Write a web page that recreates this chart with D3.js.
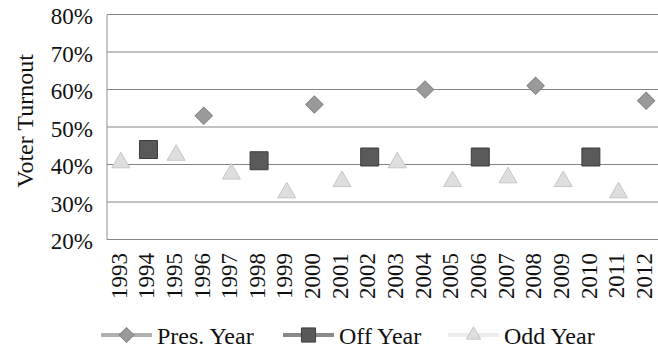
<!DOCTYPE html>
<html>
<head>
<meta charset="utf-8">
<script src="https://cdn.jsdelivr.net/npm/d3@7"></script>
<style>
  body { margin: 0; background: #fff; }
  svg text { font-family: "Liberation Serif", "Times New Roman", "DejaVu Serif", serif; fill: #111; }
</style>
</head>
<body>
<div id="chart"></div>
<script>
// years on the x axis
const years = ["1993","1994","1995","1996","1997","1998","1999","2000","2001","2002",
  "2003","2004","2005","2006","2007","2008","2009","2010","2011","2012"];

// turnout (fraction)
const presYears = ["1996","2000","2004","2008","2012"];
const presValues = [0.53, 0.56, 0.60, 0.61, 0.57];

const offYears = ["1994","1998","2002","2006","2010"];
const offValues = [0.44, 0.41, 0.42, 0.42, 0.42];

const oddYears = ["1993","1995","1997","1999","2001","2003","2005","2007","2009","2011"];
const oddValues = [0.405, 0.425, 0.375, 0.325, 0.355, 0.405, 0.355, 0.365, 0.355, 0.325];

const yTicks = [0.2, 0.3, 0.4, 0.5, 0.6, 0.7, 0.8];

const svgWidth = 658;
const svgHeight = 349;
const margin = { top: 14.5, left: 107, right: 660, bottom: 239.5 };

const svg = d3.select("#chart").append("svg")
  .attr("width", svgWidth)
  .attr("height", svgHeight);

const xScale = d3.scaleBand()
  .domain(years)
  .range([margin.left, margin.right])
  .padding(0);

const yScale = d3.scaleLinear()
  .domain([0.2, 0.8])
  .range([margin.bottom, margin.top]);

// gridlines
svg.append("g")
  .selectAll("line")
  .data(yTicks)
  .join("line")
  .attr("x1", margin.left)
  .attr("x2", svgWidth)
  .attr("y1", d => yScale(d))
  .attr("y2", d => yScale(d))
  .attr("stroke", "#858585")
  .attr("stroke-width", 1);

// left axis line
svg.append("line")
  .attr("x1", margin.left).attr("x2", margin.left)
  .attr("y1", yScale(0.8)).attr("y2", yScale(0.2))
  .attr("stroke", "#8f8f8f");

// y tick labels
svg.append("g")
  .selectAll("text")
  .data(yTicks)
  .join("text")
  .attr("x", 93)
  .attr("y", d => yScale(d) + 9.5)
  .attr("text-anchor", "end")
  .attr("font-size", 23)
  .text(d3.format(".0%"));

// x tick labels
svg.append("g")
  .selectAll("text")
  .data(years)
  .join("text")
  .attr("transform", d => `translate(${xScale(d) + xScale.bandwidth() / 2},253) rotate(-90)`)
  .attr("text-anchor", "end")
  .attr("dy", "0.25em")
  .attr("font-size", 23)
  .text(d => d);

// y axis title
svg.append("text")
  .attr("transform", "translate(25,121) rotate(-90)")
  .attr("text-anchor", "middle")
  .attr("dy", "0.35em")
  .attr("font-size", 24)
  .text("Voter Turnout");

const cx = d => xScale(d) + xScale.bandwidth() / 2;

const diamond = d3.symbol().type(d3.symbolSquare).size(150);
const square = d3.symbol().type(d3.symbolSquare).size(324);
const triangle = d3.symbol().type(d3.symbolTriangle).size(140);

const styles = {
  pres: { fill: "#9a9a9a", stroke: "#858585", line: "#b0b0b0" },
  off: { fill: "#595959", stroke: "#3d3d3d", line: "#8a8a8a" },
  odd: { fill: "#dedede", stroke: "#c6c6c6", line: "#ececec" }
};

svg.append("g")
  .selectAll("path")
  .data(presYears.map((y, i) => ({ year: y, value: presValues[i] })))
  .join("path")
  .attr("d", diamond)
  .attr("transform", d => `translate(${cx(d.year)},${yScale(d.value)}) rotate(45)`)
  .attr("fill", styles.pres.fill)
  .attr("stroke", styles.pres.stroke);

svg.append("g")
  .selectAll("path")
  .data(offYears.map((y, i) => ({ year: y, value: offValues[i] })))
  .join("path")
  .attr("d", square)
  .attr("transform", d => `translate(${cx(d.year)},${yScale(d.value)})`)
  .attr("fill", styles.off.fill)
  .attr("stroke", styles.off.stroke);

svg.append("g")
  .selectAll("path")
  .data(oddYears.map((y, i) => ({ year: y, value: oddValues[i] })))
  .join("path")
  .attr("d", triangle)
  .attr("transform", d => `translate(${cx(d.year)},${yScale(d.value)})`)
  .attr("fill", styles.odd.fill)
  .attr("stroke", styles.odd.stroke);

// legend
const legendItems = [
  { label: "Pres. Year", x: 101, style: styles.pres, sym: d3.symbol().type(d3.symbolSquare).size(110), rot: 45 },
  { label: "Off Year", x: 283, style: styles.off, sym: d3.symbol().type(d3.symbolSquare).size(200), rot: 0 },
  { label: "Odd Year", x: 448, style: styles.odd, sym: d3.symbol().type(d3.symbolTriangle).size(90), rot: 0 }
];

const legend = svg.append("g");
const ly = 335;
legendItems.forEach(item => {
  const g = legend.append("g");
  g.append("line")
    .attr("x1", item.x).attr("x2", item.x + 51)
    .attr("y1", ly).attr("y2", ly)
    .attr("stroke", item.style.line)
    .attr("stroke-width", 4);
  g.append("path")
    .attr("d", item.sym)
    .attr("transform", `translate(${item.x + 25.5},${ly}) rotate(${item.rot})`)
    .attr("fill", item.style.fill)
    .attr("stroke", item.style.stroke);
  g.append("text")
    .attr("x", item.x + 56)
    .attr("y", 344)
    .attr("font-size", 24)
    .text(item.label);
});
</script>
</body>
</html>
